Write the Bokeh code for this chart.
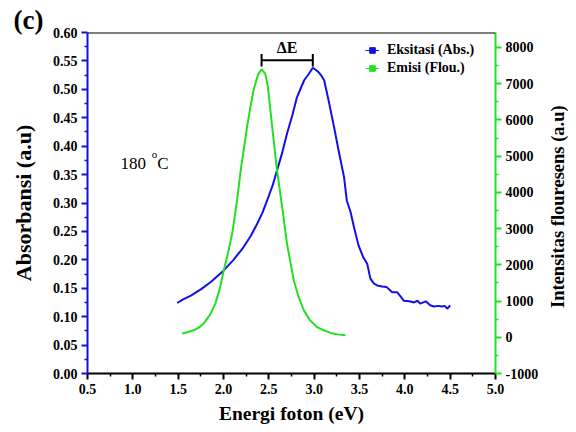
from bokeh.plotting import figure
from bokeh.layouts import row
from bokeh.models import (Range1d, LinearAxis, FixedTicker, Legend, LegendItem,
                          Label, Span, NumeralTickFormatter, ColumnDataSource, Div)
from bokeh.embed import file_html
from bokeh.resources import INLINE

# ---- data ----
abs_x = [1.49, 1.55, 1.64, 1.75, 1.86, 2.00, 2.11, 2.22, 2.30, 2.37, 2.43, 2.48, 2.54, 2.59, 2.65,
         2.70, 2.76, 2.81, 2.86, 2.89, 2.94, 2.985, 3.02, 3.05, 3.08, 3.11, 3.16, 3.22, 3.27, 3.33,
         3.36, 3.40, 3.44, 3.49, 3.54, 3.585, 3.62, 3.66, 3.695, 3.75, 3.80, 3.86, 3.915, 3.95,
         3.99, 4.05, 4.10, 4.14, 4.17, 4.23, 4.28, 4.32, 4.37, 4.41, 4.44, 4.47, 4.50]
abs_y = [0.124, 0.130, 0.137, 0.148, 0.161, 0.181, 0.200, 0.222, 0.242, 0.263, 0.283, 0.304, 0.330, 0.357, 0.390,
         0.422, 0.455, 0.486, 0.505, 0.516, 0.527, 0.538, 0.534, 0.530, 0.524, 0.516, 0.480, 0.433, 0.392, 0.345,
         0.304, 0.285, 0.257, 0.225, 0.205, 0.193, 0.167, 0.158, 0.155, 0.153, 0.152, 0.143, 0.143, 0.136,
         0.128, 0.127, 0.125, 0.128, 0.123, 0.127, 0.120, 0.118, 0.119, 0.118, 0.119, 0.114, 0.120]

em_x = [1.545, 1.60, 1.67, 1.73, 1.78, 1.85, 1.91, 1.96, 2.003, 2.05, 2.096, 2.15, 2.19, 2.26, 2.30, 2.334,
        2.38, 2.42, 2.46, 2.49, 2.537, 2.59, 2.647, 2.70, 2.775, 2.83, 2.886, 2.95, 3.03, 3.10, 3.18,
        3.26, 3.345]
em_y = [102, 140, 193, 270, 378, 620, 930, 1350, 1850, 2330, 2864, 3784, 4612, 5810, 6400, 6850,
        7250, 7400, 7280, 6914, 5810, 4612, 3600, 2588, 1574, 1100, 746, 480, 284, 200, 120,
        80, 55]

x_ticks = [0.5, 1.0, 1.5, 2.0, 2.5, 3.0, 3.5, 4.0, 4.5, 5.0]
left_ticks = [0.0, 0.05, 0.10, 0.15, 0.20, 0.25, 0.30, 0.35, 0.40, 0.45, 0.50, 0.55, 0.60]
right_ticks = [-1000, 0, 1000, 2000, 3000, 4000, 5000, 6000, 7000, 8000]

BLUE = "#1010e8"
GREEN = "#22e022"
FONT = "Liberation Serif"

p = figure(frame_width=408, frame_height=341, output_backend="svg", toolbar_location=None,
           x_range=Range1d(0.5, 5.0), y_range=Range1d(0.0, 0.6),
           min_border_left=87, min_border_right=45, min_border_top=32, min_border_bottom=56,
           title="(c)")
p.extra_y_ranges = {"right": Range1d(-1000, 8414)}
p.outline_line_color = None
p.xgrid.visible = False
p.ygrid.visible = False
p.background_fill_color = "white"
p.border_fill_color = "white"

# panel tag as title
p.title.text_font = FONT
p.title.text_font_style = "bold"
p.title.text_font_size = "27px"
p.title.text_color = "black"
p.title.align = "left"
p.title.offset = -74
p.title.standoff = -4

# axes
xa = p.xaxis[0]
xa.ticker = FixedTicker(ticks=x_ticks, minor_ticks=[0.75 + 0.5 * i for i in range(9)])
xa.formatter = NumeralTickFormatter(format="0.0")
xa.axis_label = "Energi foton (eV)"

ya = p.yaxis[0]
ya.ticker = FixedTicker(ticks=left_ticks, minor_ticks=[0.025 + 0.05 * i for i in range(12)])
ya.formatter = NumeralTickFormatter(format="0.00")
ya.axis_label = "Absorbansi (a.u)"

ra = LinearAxis(y_range_name="right")
ra.ticker = FixedTicker(ticks=right_ticks, minor_ticks=[-500 + 1000 * i for i in range(9)])
ra.formatter = NumeralTickFormatter(format="0")
p.add_layout(ra, "right")

for ax, col in ((xa, "black"), (ya, BLUE), (ra, GREEN)):
    ax.axis_line_color = col
    ax.axis_line_width = 2
    ax.major_tick_line_color = col
    ax.minor_tick_line_color = col
    ax.major_tick_line_width = 2
    ax.minor_tick_line_width = 1.5
    ax.major_tick_out = 6
    ax.major_tick_in = 0
    ax.minor_tick_out = 3
    ax.minor_tick_in = 0
    ax.major_label_text_font = FONT
    ax.major_label_text_font_style = "bold"
    ax.major_label_text_font_size = "14px"
    ax.major_label_text_color = "black"
    ax.axis_label_text_font = FONT
    ax.axis_label_text_font_style = "bold"
    ax.axis_label_text_color = "black"
    ax.major_label_standoff = 4
xa.axis_label_text_font_size = "19.5px"
xa.axis_label_standoff = 6
ya.axis_label_text_font_size = "22px"
ya.axis_label_standoff = 14

p.add_layout(Span(location=0.6, dimension="width", line_color="black", line_width=2))

# curves
abs_src = ColumnDataSource(dict(x=abs_x, y=abs_y))
em_src = ColumnDataSource(dict(x=em_x, y=em_y))
p.line("x", "y", source=abs_src, line_color=BLUE, line_width=2)
p.line("x", "y", source=em_src, line_color=GREEN, line_width=2, y_range_name="right")

# legend with line + square glyphs (invisible placeholder renderers)
nan_src = ColumnDataSource(dict(x=[float("nan")], y=[float("nan")]))
l1 = p.line("x", "y", source=nan_src, line_color=BLUE, line_width=1)
s1 = p.scatter("x", "y", source=nan_src, marker="square", size=4, color=BLUE)
l2 = p.line("x", "y", source=nan_src, line_color=GREEN, line_width=1)
s2 = p.scatter("x", "y", source=nan_src, marker="square", size=4, color=GREEN)
legend = Legend(items=[LegendItem(label="Eksitasi (Abs.)", renderers=[l1, s1]),
                       LegendItem(label="Emisi (Flou.)", renderers=[l2, s2])],
                location=(278, 297), border_line_color=None, background_fill_alpha=0,
                label_text_font=FONT, label_text_font_style="bold", label_text_font_size="14px",
                label_text_color="black",
                glyph_width=14, glyph_height=16, spacing=2, padding=3, margin=0, label_standoff=8)
p.add_layout(legend)

# Delta E bracket between the two peaks
pk_em = em_x[em_y.index(max(em_y))]
pk_abs = abs_x[abs_y.index(max(abs_y))]
yb = 0.551
p.segment(x0=[pk_em, pk_em, pk_abs], y0=[yb, yb - 0.011, yb - 0.011],
          x1=[pk_abs, pk_em, pk_abs], y1=[yb, yb + 0.011, yb + 0.011],
          line_color="black", line_width=2)
p.add_layout(Label(x=(pk_em + pk_abs) / 2, y=yb + 0.007, text="ΔE", text_align="center",
                   text_baseline="bottom", text_font=FONT, text_font_style="bold",
                   text_font_size="16px", text_color="black"))

# temperature label
p.add_layout(Label(x=0.864, y=0.3695, text="180", text_font=FONT, text_font_size="17px",
                   text_baseline="alphabetic", text_color="black"))
p.add_layout(Label(x=1.21, y=0.386, text="o", text_font=FONT, text_font_size="11px",
                   text_baseline="alphabetic", text_color="black"))
p.add_layout(Label(x=1.27, y=0.3695, text="C", text_font=FONT, text_font_size="17px",
                   text_baseline="alphabetic", text_color="black"))

# right axis title, reading bottom-to-top like the reference
right_title = Div(
    text=('<div style="writing-mode: vertical-rl; transform: rotate(180deg); '
          'font-family: \'Liberation Serif\'; font-weight: bold; font-size: 18.5px; color: black; '
          'height: 404px; text-align: center; white-space: nowrap; line-height: 24px;">'
          'Intensitas&nbsp;flouresens&nbsp;(a.u)</div>'),
    width=30, height=404)

layout = row(p, right_title, spacing=0)
open("out.html", "w").write(file_html(layout, INLINE))
